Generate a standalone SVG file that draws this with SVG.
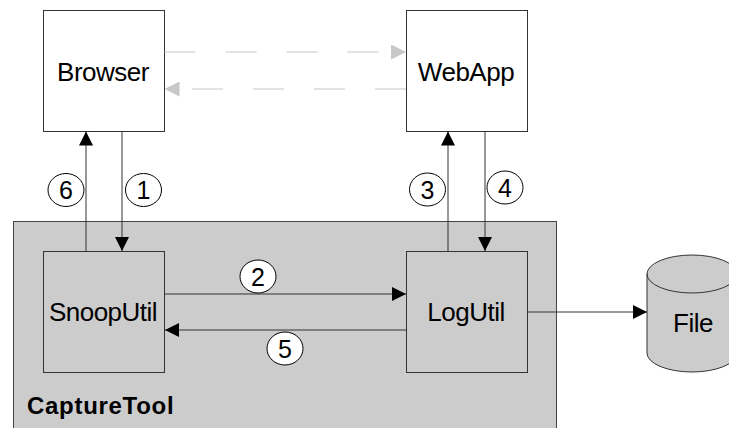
<svg xmlns="http://www.w3.org/2000/svg" width="729" height="428" viewBox="0 0 729 428">
  <style>
    .box { fill: #ffffff; stroke: #333333; stroke-width: 1; }
    .inner { fill: #cccccc; stroke: #333333; stroke-width: 1; }
    .label { font-family: "Liberation Sans", Arial, sans-serif; font-size: 26px; letter-spacing: -0.5px; fill: #000000; text-anchor: middle; }
    .num { font-family: "Liberation Sans", Arial, sans-serif; font-size: 25px; fill: #000000; text-anchor: middle; }
    .badge { fill: #ffffff; stroke: #000000; stroke-width: 1; }
    .flow { stroke: #333333; stroke-width: 1; fill: none; marker-end: url(#head); }
    .http { stroke: #c8c8c8; stroke-width: 1.2; fill: none; stroke-dasharray: 31 30; marker-end: url(#headGray); }
  </style>
  <defs>
    <marker id="head" markerUnits="userSpaceOnUse" markerWidth="14" markerHeight="14" refX="14" refY="7" orient="auto">
      <path d="M0,0 L14,7 L0,14 z" fill="#000000"/>
    </marker>
    <marker id="headGray" markerUnits="userSpaceOnUse" markerWidth="15" markerHeight="15" refX="15" refY="7.5" orient="auto">
      <path d="M0,0 L15,7.5 L0,15 z" fill="#c8c8c8"/>
    </marker>
  </defs>

  <rect width="729" height="428" fill="#ffffff"/>

  <!-- CaptureTool container -->
  <g id="capturetool">
    <rect x="13.5" y="221.5" width="543" height="220" fill="#cccccc" stroke="#444444" stroke-width="1"/>
    <text x="27" y="413.5" font-family="'Liberation Sans', Arial, sans-serif" font-size="24" font-weight="bold" letter-spacing="0.7" fill="#000000">CaptureTool</text>
  </g>

  <g id="browser">
    <rect class="box" x="43.5" y="10.5" width="121" height="121"/>
    <text class="label" x="103" y="81">Browser</text>
  </g>

  <g id="webapp">
    <rect class="box" x="406.5" y="10.5" width="121" height="121"/>
    <text class="label" x="466" y="81">WebApp</text>
  </g>

  <g id="snooputil">
    <rect class="inner" x="43.5" y="251.5" width="121" height="121"/>
    <text class="label" x="103" y="321">SnoopUtil</text>
  </g>

  <g id="logutil">
    <rect class="inner" x="406.5" y="251.5" width="121" height="121"/>
    <text class="label" x="466" y="321">LogUtil</text>
  </g>

  <g id="file">
    <path d="M647,274 L647,353 A45,19 0 0 0 737,353 L737,274 A45,19 0 0 0 647,274 z" fill="#cccccc" stroke="#333333" stroke-width="1"/>
    <path d="M647,274 A45,19 0 0 0 737,274" fill="none" stroke="#333333" stroke-width="1"/>
    <text class="label" x="693" y="332">File</text>
  </g>

  <!-- connectors -->
  <g id="connectors">
    <line class="http" x1="164.5" y1="52" x2="406" y2="52"/>
    <line class="http" x1="406" y1="89" x2="164.5" y2="89"/>

    <line class="flow" x1="122" y1="131.5" x2="122" y2="251"/>
    <line class="flow" x1="164.5" y1="294" x2="406" y2="294"/>
    <line class="flow" x1="448" y1="251.5" x2="448" y2="131.5"/>
    <line class="flow" x1="485" y1="131.5" x2="485" y2="251"/>
    <line class="flow" x1="406.5" y1="330" x2="165" y2="330"/>
    <line class="flow" x1="86" y1="251.5" x2="86" y2="131.5"/>
    <line class="flow" x1="527.5" y1="312" x2="647" y2="312"/>
  </g>

  <!-- step numbers -->
  <g id="steps">
    <ellipse class="badge" cx="143.5" cy="190" rx="18" ry="16.5"/>
    <text class="num" x="143.5" y="199">1</text>
    <ellipse class="badge" cx="258" cy="276.5" rx="18" ry="16.5"/>
    <text class="num" x="258" y="285.5">2</text>
    <ellipse class="badge" cx="427.5" cy="189.5" rx="18" ry="16.5"/>
    <text class="num" x="427.5" y="198.5">3</text>
    <ellipse class="badge" cx="505" cy="187.5" rx="18" ry="16.5"/>
    <text class="num" x="505" y="196.5">4</text>
    <ellipse class="badge" cx="285" cy="348.5" rx="18" ry="16.5"/>
    <text class="num" x="285" y="357.5">5</text>
    <ellipse class="badge" cx="66" cy="190" rx="18" ry="16.5"/>
    <text class="num" x="66" y="199">6</text>
  </g>
</svg>
